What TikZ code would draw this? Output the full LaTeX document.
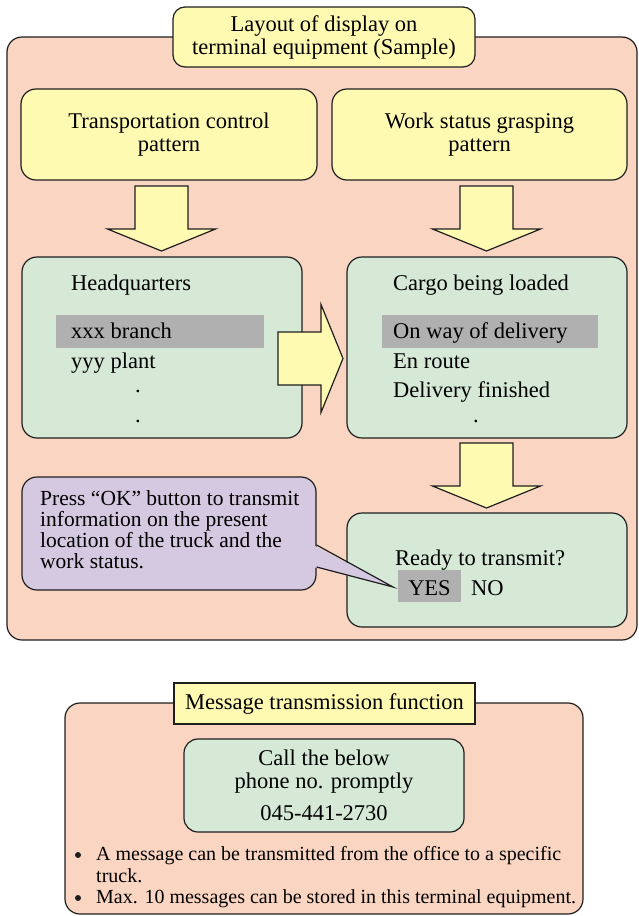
\documentclass[tikz,border=0pt]{standalone}
\usepackage{fontspec}
\setmainfont{Liberation Serif}
\usepackage{xcolor}
\usepackage{tikz}
\usetikzlibrary{positioning}

\definecolor{pinkbg}{RGB}{250,214,194}
\definecolor{yellowbg}{RGB}{255,250,178}
\definecolor{greenbg}{RGB}{214,232,214}
\definecolor{purplebg}{RGB}{213,201,226}
\definecolor{markgray}{RGB}{176,176,176}
\definecolor{edge}{RGB}{30,30,30}

\begin{document}
\begin{tikzpicture}[x=1pt,y=-1pt,
    every node/.style={font=\fontsize{22.5}{23}\selectfont},
    frame/.style={draw=edge, line width=1.2pt, rounded corners=15pt, inner sep=0pt},
    panel/.style={frame, fill=pinkbg},
    yellowbox/.style={frame, fill=yellowbg, align=center},
    greenbox/.style={frame, fill=greenbg, align=center},
    blockarr/.style={draw=edge, line width=1.2pt, fill=yellowbg},
    hilite/.style={fill=markgray, draw=none},
    item/.style={anchor=base west, inner sep=0pt}]
    \useasboundingbox (0,0) rectangle (638,916);

    % upper panel
    \node[panel, minimum width=630pt, minimum height=603pt] (outer) at (322,338.5) {};
    \node[yellowbox, rounded corners=12pt, minimum width=302pt, minimum height=60pt] (title) at (324,37)
        {Layout of display on\\terminal equipment (Sample)};
    \node[yellowbox, minimum width=296pt, minimum height=91pt] (tcp) at (169,134.5)
        {Transportation control\\pattern};
    \node[yellowbox, minimum width=295pt, minimum height=91pt] (wsp) at (479.5,134.5)
        {Work status grasping\\pattern};

    \node[greenbox, minimum width=280pt, minimum height=181pt] (hq) at (162,347.5) {};
    \node[greenbox, minimum width=280pt, minimum height=181pt] (cargo) at (487,347.5) {};
    \node[greenbox, minimum width=280pt, minimum height=114pt] (ready) at (487,570) {};

    \foreach \px/\py/\ang in {161.5/186/0, 486.5/186/0, 278/358.5/90, 486.5/443/0}
    \draw[blockarr, shift={(\px,\py)}, rotate=\ang]
        (-26.5,0) -- (-26.5,43) -- (-54,43) -- (0,65) -- (54,43) -- (26.5,43) -- (26.5,0) -- cycle;

    \fill[hilite] (56,315) rectangle (264,348);
    \fill[hilite] (382,315) rectangle (598,348);
    \fill[hilite] (398,570) rectangle (461,602);

    \node[item] (hqt) at (71,290) {Headquarters};
    \node[item] (xxx) at (71,338) {xxx branch};
    \node[item] (yyy) at (71,368) {yyy plant};
    \foreach \py in {392,422}
    \node[anchor=base, inner sep=0pt] at (138,\py) {.};

    \node[item] (cbl) at (393,290) {Cargo being loaded};
    \node[item] (owd) at (393,338) {On way of delivery};
    \node[item] (enr) at (393,368) {En route};
    \node[item] (dfin) at (393,397) {Delivery finished};
    \node[anchor=base, inner sep=0pt] at (476,422) {.};

    \node[item] (rtt) at (395,565) {Ready to transmit?};
    \node[anchor=base, inner sep=0pt] (yes) at (429.5,595) {YES};
    \node[item] (no) at (471,595) {NO};

    % callout
    \node[frame, fill=purplebg, minimum width=294pt, minimum height=113pt] (note) at (169,533.5) {};
    \coordinate (tip) at (393,587);
    \fill[purplebg] (313,545) -- (tip) -- (313,567) -- cycle;
    \draw[edge, line width=1.2pt, line join=miter] (note.east |- 0,545) -- (tip) -- (note.east |- 0,567);
    \foreach \ln [count=\i] in {Press “OK” button to transmit, information on the present,
        location of the truck and the, work status.}
    \node[item, font=\fontsize{21.5}{21}\selectfont] at (40,484+21*\i) {\ln};

    % lower panel
    \node[panel, minimum width=518pt, minimum height=211pt] (msgbox) at (324,808.5) {};
    \node[draw=edge, line width=1.2pt, fill=yellowbg, inner sep=0pt, minimum width=301pt, minimum height=41pt]
        (msglabel) at (324.5,703.5) {Message transmission function};
    \node[greenbox, rounded corners=14pt, minimum width=280pt, minimum height=93pt] (call) at (324,785.5) {};
    \node[anchor=base, inner sep=0pt] at (324,765) {Call the below};
    \node[anchor=base, inner sep=0pt] at (324,788) {phone no. promptly};
    \node[anchor=base, inner sep=0pt] (phone) at (324,820) {045-441-2730};

    \foreach \py in {855,898}
    \fill[edge] (78,\py) circle (3pt);
    \begin{scope}[every node/.append style={font=\fontsize{20}{20}\selectfont}]
    \node[item] at (96,860) {A message can be transmitted from the office to a specific};
    \node[item] at (96,882) {truck.};
    \node[item] at (96,903) {Max. 10 messages can be stored in this terminal equipment.};
    \end{scope}
\end{tikzpicture}
\end{document}
